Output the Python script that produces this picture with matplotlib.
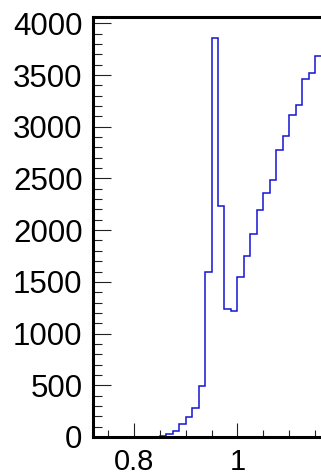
import numpy as np
import matplotlib.pyplot as plt
from matplotlib.ticker import MultipleLocator, FuncFormatter

plt.rcParams['font.family'] = ['Liberation Sans', 'DejaVu Sans']

# histogram contents, bins of 0.0125 starting at 0.70
bin_start = 0.70
bin_width = 0.0125
counts = [0, 0, 0, 0, 0, 0, 0, 0, 0, 0, 0, 0,
          7, 29, 61, 129, 196, 278, 493, 1600, 3860, 2230,
          1238, 1215, 1550, 1750, 1963, 2195, 2357, 2485,
          2775, 2914, 3114, 3210, 3466, 3515, 3680]

edges = bin_start + bin_width * np.arange(len(counts) + 1)

fig = plt.figure(figsize=(3.21, 4.74), dpi=100)
ax = fig.add_axes([93 / 321, 37 / 474, 0.8526, 420 / 474])

ax.stairs(counts, edges, baseline=None, color='#1414d2', lw=1.1)

ax.set_xlim(0.7207, 1.25)
ax.set_ylim(0, 4061)

ax.xaxis.set_major_locator(MultipleLocator(0.2))
ax.xaxis.set_minor_locator(MultipleLocator(0.05))
ax.yaxis.set_major_locator(MultipleLocator(500))
ax.yaxis.set_minor_locator(MultipleLocator(100))
ax.xaxis.set_major_formatter(FuncFormatter(lambda v, p: '%g' % round(v, 3)))
ax.yaxis.set_major_formatter(FuncFormatter(lambda v, p: '%d' % v))

ax.tick_params(axis='both', which='both', direction='in', width=0.8, color='#222222',
               top=False, right=False)
ax.tick_params(axis='y', which='major', length=12.6, pad=7.5, labelsize=22.5)
ax.tick_params(axis='y', which='minor', length=6.5)
ax.tick_params(axis='x', which='major', length=10, pad=8, labelsize=21)
ax.tick_params(axis='x', which='minor', length=5.2)

for side in ['left', 'bottom', 'top']:
    ax.spines[side].set_linewidth(2.2)
ax.spines['right'].set_visible(False)

fig.savefig('out.png', dpi=100)
